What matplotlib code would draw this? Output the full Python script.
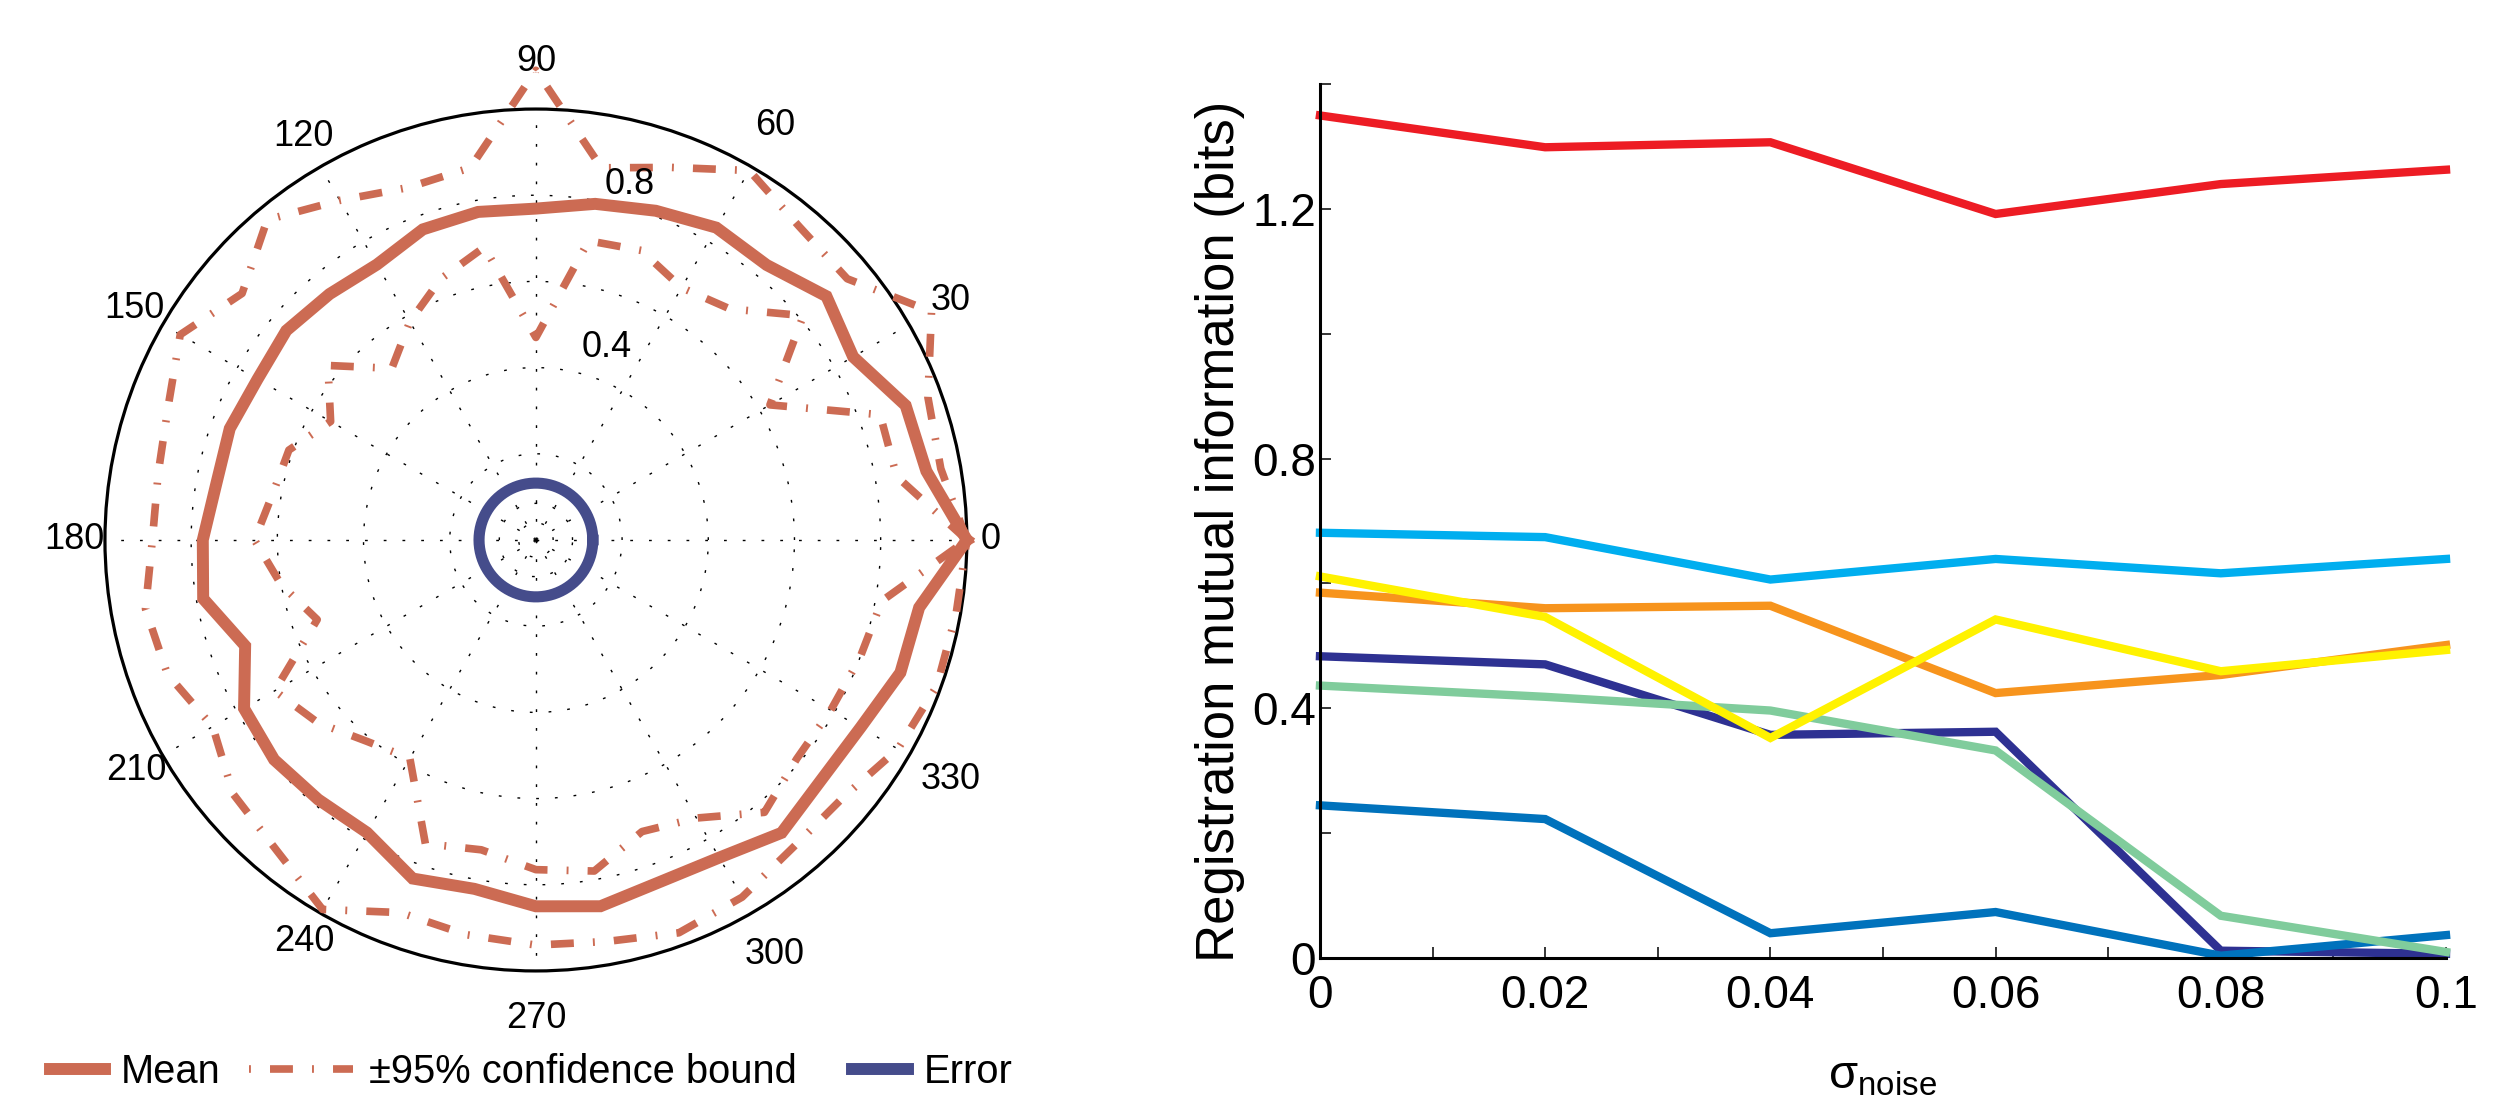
"""
Polar plot of normalised response (mean, 95% bounds, error) and
registration mutual information against sigma_noise.
"""

import numpy as np
import matplotlib
matplotlib.use("Agg")
import matplotlib.pyplot as plt
from matplotlib.lines import Line2D
from matplotlib.legend_handler import HandlerLine2D
from matplotlib.ticker import FixedLocator, FixedFormatter

plt.rcParams['font.family'] = ['Liberation Sans', 'DejaVu Sans']
plt.rcParams['mathtext.fontset'] = 'custom'
plt.rcParams['mathtext.rm'] = 'Liberation Sans'
plt.rcParams['mathtext.it'] = 'Liberation Sans:italic'

# ---- polar data (angle in degrees, radius) ----
angles_deg = list(range(0, 360, 10))
mean_r = [1.000, 0.920, 0.913, 0.850, 0.880, 0.833, 0.837, 0.813, 0.792, 0.769,
          0.773, 0.767, 0.738, 0.745, 0.756, 0.746, 0.756, 0.753, 0.773, 0.784,
          0.718, 0.782, 0.793, 0.786, 0.784, 0.836, 0.822, 0.850, 0.863, 0.844,
          0.851, 0.887, 0.865, 0.870, 0.900, 0.903]
upper_r = [1.000, 0.954, 0.968, 1.060, 0.943, 0.950, 0.990, 0.920, 0.877, 1.090,
           0.877, 0.870, 0.910, 0.970, 0.890, 0.953, 0.908, 0.890, 0.890, 0.920,
           0.910, 0.866, 0.917, 0.938, 0.990, 0.920, 0.930, 0.940, 0.946, 0.970,
           0.957, 0.930, 0.930, 0.970, 0.990, 0.990]
lower_r = [1.000, 0.850, 0.850, 0.627, 0.810, 0.700, 0.676, 0.715, 0.705, 0.470,
           0.690, 0.645, 0.585, 0.520, 0.630, 0.550, 0.610, 0.620, 0.653, 0.600,
           0.540, 0.700, 0.660, 0.610, 0.585, 0.750, 0.730, 0.765, 0.780, 0.720,
           0.745, 0.825, 0.790, 0.790, 0.800, 0.815]
error_r = 0.132

# ---- mutual information data ----
sigma_noise = [0, 0.02, 0.04, 0.06, 0.08, 0.1]
mi_navy = [0.483, 0.470, 0.357, 0.362, 0.011, 0.006]
mi_blue = [0.244, 0.222, 0.039, 0.073, 0.003, 0.036]
mi_green = [0.436, 0.418, 0.396, 0.332, 0.067, 0.009]
mi_orange = [0.585, 0.560, 0.564, 0.424, 0.453, 0.501]
mi_yellow = [0.611, 0.546, 0.352, 0.542, 0.459, 0.493]
mi_cyan = [0.681, 0.674, 0.606, 0.639, 0.616, 0.639]
mi_red = [1.350, 1.299, 1.307, 1.192, 1.240, 1.263]

xtick_vals = [0, 0.02, 0.04, 0.06, 0.08, 0.1]
xtick_labels = ['0', '0.02', '0.04', '0.06', '0.08', '0.1']
ytick_vals = [0, 0.4, 0.8, 1.2]
ytick_labels = ['0', '0.4', '0.8', '1.2']

MEAN_C = '#CC6B53'
ERR_C = '#454C8B'
BOUND_LS = (0, (3.0, 2.5, 0.25, 2.5))


class WideHandler(HandlerLine2D):
    # longer legend handle so the dash-dot pattern shows
    def legend_artist(self, legend, orig_handle, fontsize, handlebox):
        handlebox.width *= 1.9
        return super().legend_artist(legend, orig_handle, fontsize, handlebox)


class ShiftedHandler(HandlerLine2D):
    # extra space in front of the handle
    def __init__(self, shift, **kw):
        super().__init__(**kw)
        self.shift = shift

    def legend_artist(self, legend, orig_handle, fontsize, handlebox):
        w = handlebox.width
        handlebox.width = w + self.shift
        artists = self.create_artists(legend, orig_handle,
                                      handlebox.xdescent - self.shift,
                                      handlebox.ydescent, w, handlebox.height,
                                      fontsize, handlebox.get_transform())
        for a in artists:
            handlebox.add_artist(a)
        return artists[0]


fig = plt.figure(figsize=(24.99, 11.0), dpi=100)

# ---------------- polar panel ----------------
ax = fig.add_axes([0.042, 0.1173, 0.3449, 0.7836], projection='polar')
th = np.deg2rad(angles_deg + [angles_deg[0]])

ax.plot(th, upper_r + [upper_r[0]], color=MEAN_C, lw=5.5, ls=BOUND_LS,
        dash_capstyle='butt', clip_on=False, zorder=3)
ax.plot(th, lower_r + [lower_r[0]], color=MEAN_C, lw=5.5, ls=BOUND_LS,
        dash_capstyle='butt', clip_on=False, zorder=3)
ax.plot(th, mean_r + [mean_r[0]], color=MEAN_C, lw=8.6,
        solid_joinstyle='miter', clip_on=False, zorder=4)
circ = np.linspace(0, 2 * np.pi, 361)
ax.plot(circ, np.full_like(circ, error_r), color=ERR_C, lw=8, zorder=4)

ax.set_ylim(0, 1)
ax.set_rticks([0.04, 0.085, 0.2, 0.4, 0.6, 0.8])
ax.set_yticklabels([])
ax.set_xticks(np.deg2rad(np.arange(0, 360, 30)))
ax.set_xticklabels([])
ax.tick_params(length=0)
ax.grid(True, color='black', linewidth=1.0, linestyle=(0, (2, 11.5)))
ax.spines['polar'].set_linewidth(2.3)

label_r = {0: 1.055, 180: 1.07, 120: 1.08, 150: 1.075, 210: 1.07, 240: 1.075}
for a in range(0, 360, 30):
    ax.text(np.deg2rad(a), label_r.get(a, 1.11), str(a), ha='center',
            va='center', fontsize=26)
ax.text(np.deg2rad(75.2), 0.852, '0.8', ha='center', va='center', fontsize=26)
ax.text(np.deg2rad(69.8), 0.477, '0.4', ha='center', va='center', fontsize=26)

h_mean = Line2D([], [], color=MEAN_C, lw=8.6)
h_bound = Line2D([], [], color=MEAN_C, lw=5.5, ls=(5.5, (3.0, 2.5, 0.25, 2.5)),
                 dash_capstyle='butt')
h_err = Line2D([], [], color=ERR_C, lw=8.6)
fig.legend([h_mean, h_bound, h_err],
           ['Mean', '\u00b195% confidence bound', 'Error'],
           handler_map={h_bound: WideHandler(), h_err: ShiftedHandler(20)},
           loc='center left', bbox_to_anchor=(50 / 2499, 1 - 1072 / 1100),
           ncol=3, frameon=False, fontsize=28.7, handlelength=1.38,
           handletextpad=0.4, columnspacing=0.7, borderpad=0, borderaxespad=0)

# ---------------- line panel ----------------
ax2 = fig.add_axes([0.5282, 0.1295, 0.4506, 0.7939])
series = [
    (mi_navy, '#2E3192'),
    (mi_blue, '#0072BC'),
    (mi_green, '#80CC9C'),
    (mi_orange, '#F7941D'),
    (mi_yellow, '#FFF200'),
    (mi_cyan, '#00AEEF'),
    (mi_red, '#ED1C24'),
]
for vals, col in series:
    ax2.plot(sigma_noise, vals, color=col, lw=6, solid_joinstyle='miter',
             clip_on=False)

ax2.set_xlim(0, 0.1)
ax2.set_ylim(0, 1.4)
for s in ['top', 'right']:
    ax2.spines[s].set_visible(False)
for s in ['left', 'bottom']:
    ax2.spines[s].set_linewidth(2.2)

ax2.xaxis.set_major_locator(FixedLocator(xtick_vals))
ax2.xaxis.set_major_formatter(FixedFormatter(xtick_labels))
ax2.xaxis.set_minor_locator(FixedLocator([0.01, 0.03, 0.05, 0.07, 0.09]))
ax2.yaxis.set_major_locator(FixedLocator(ytick_vals))
ax2.yaxis.set_major_formatter(FixedFormatter(ytick_labels))
ax2.yaxis.set_minor_locator(FixedLocator([0.2, 0.6, 1.0, 1.4]))
ax2.tick_params(which='both', direction='in', length=8, width=1.1,
                labelsize=33)
ax2.tick_params(axis='x', which='major', pad=12)
ax2.tick_params(axis='y', which='major', pad=3)

ax2.set_ylabel('Registration mutual information (bits)', fontsize=38)
ax2.yaxis.set_label_coords(-0.0666, 0.4885)
ax2.set_xlabel('$\\mathrm{\u03c3}_{\\mathrm{noise}}$', fontsize=34)
ax2.xaxis.set_label_coords(0.5, -0.1115)

fig.savefig('out.png', dpi=100)
